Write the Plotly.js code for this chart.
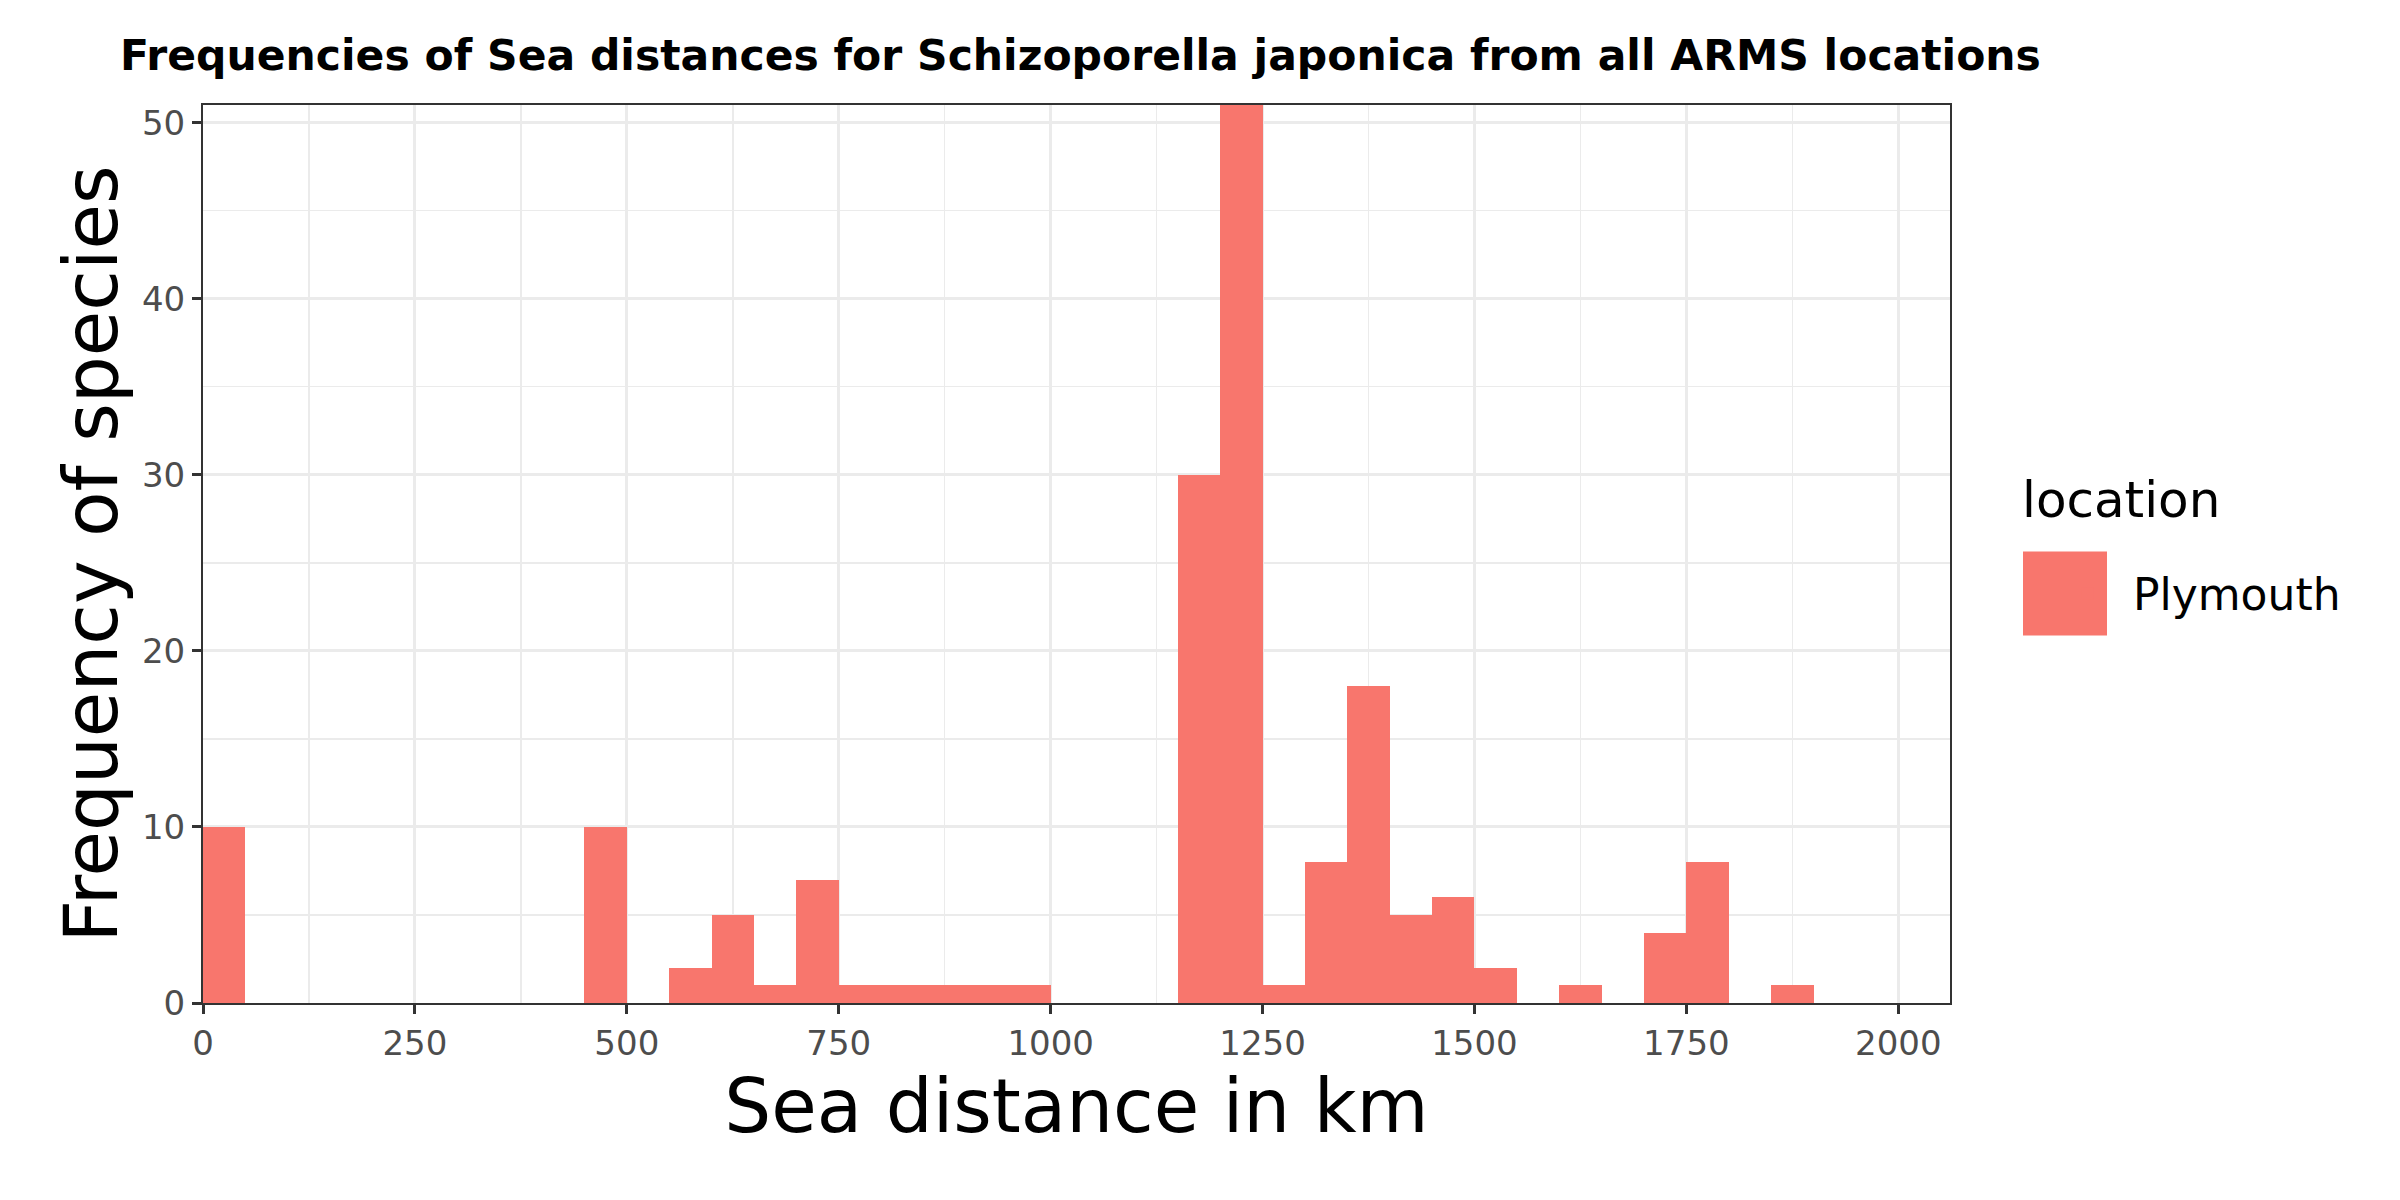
<!DOCTYPE html>
<html>
<head>
<meta charset="utf-8">
<script src="https://cdn.plot.ly/plotly-3.0.1.min.js"></script>
<style>html,body{margin:0;padding:0;background:#fff}</style>
</head>
<body>
<div id="chart" style="width:2400px;height:1200px"></div>
<script>
// Histogram bins (bin start, km) and counts
const binStart = [0, 450, 550, 600, 650, 700, 750, 800, 850, 900, 950, 1150, 1200, 1250, 1300, 1350, 1400, 1450, 1500, 1600, 1700, 1750, 1850];
const counts   = [10, 10, 2, 5, 1, 7, 1, 1, 1, 1, 1, 30, 51, 1, 8, 18, 5, 6, 2, 1, 4, 8, 1];
const binWidth = 50;
const seriesName = "Plymouth";
const legendTitle = "location";
const xTicks = [0, 250, 500, 750, 1000, 1250, 1500, 1750, 2000];
const yTicks = [0, 10, 20, 30, 40, 50];

const FONT = "DejaVu Sans";
const trace = {
  type: "bar",
  x: binStart,
  y: counts,
  width: binStart.map(() => binWidth),
  offset: 0,
  name: seriesName,
  marker: {color: "#F8766D", line: {width: 0}},
  showlegend: true
};

const layout = {
  width: 2400, height: 1200,
  paper_bgcolor: "#ffffff", plot_bgcolor: "#ffffff",
  margin: {l: 203, r: 450, t: 105, b: 197, pad: 0},
  bargap: 0,
  title: {
    text: "<b>Frequencies of Sea distances for Schizoporella japonica from all ARMS locations</b>",
    font: {family: FONT, size: 42.5, color: "#000"},
    x: 120/2400, xref: "container", xanchor: "left",
    y: 1 - 55/1200, yref: "container", yanchor: "middle"
  },
  xaxis: {
    range: [0, 2061],
    tickvals: xTicks,
    ticktext: xTicks.map(String),
    ticks: "outside", ticklen: 9, tickwidth: 3, tickcolor: "#333333",
    tickfont: {family: FONT, size: 34, color: "#4d4d4d"},
    showgrid: true, gridcolor: "#ebebeb", gridwidth: 3,
    minor: {tickvals: [125, 375, 625, 875, 1125, 1375, 1625, 1875], showgrid: true, gridcolor: "#ebebeb", gridwidth: 1.5, ticks: ""},
    showline: true, linecolor: "#333333", linewidth: 2, mirror: true,
    zeroline: false,
    title: {text: "Sea distance in km", font: {family: FONT, size: 74, color: "#000"}, standoff: 10}
  },
  yaxis: {
    range: [0, 51],
    tickvals: yTicks,
    ticktext: yTicks.map(String),
    ticks: "outside", ticklen: 9, tickwidth: 3, tickcolor: "#333333",
    tickfont: {family: FONT, size: 34, color: "#4d4d4d"},
    showgrid: true, gridcolor: "#ebebeb", gridwidth: 3,
    minor: {tickvals: [5, 15, 25, 35, 45], showgrid: true, gridcolor: "#ebebeb", gridwidth: 1.5, ticks: ""},
    showline: true, linecolor: "#333333", linewidth: 2, mirror: true,
    zeroline: false,
    title: {text: "Frequency of species", font: {family: FONT, size: 74, color: "#000"}, standoff: 0}
  },
  legend: {
    x: 1.0532, xanchor: "left", y: (1002-593)/897, yanchor: "middle",
    bgcolor: "rgba(0,0,0,0)", borderwidth: 0,
    font: {family: FONT, size: 44, color: "#000"},
    itemwidth: 80
  },
  annotations: [
    {text: legendTitle, xref: "paper", yref: "paper",
     x: (2020-203)/1747, xanchor: "left", y: (1002-500)/897, yanchor: "middle",
     showarrow: false, font: {family: FONT, size: 50, color: "#000"}}
  ],
  shapes: [
    {type: "rect", xref: "paper", yref: "paper",
     x0: (2023-203)/1747, x1: (2107-203)/1747,
     y0: (1002-635)/897, y1: (1002-551)/897,
     fillcolor: "#F8766D", line: {width: 0}, layer: "above"}
  ]
};

Plotly.newPlot("chart", [trace], layout, {displayModeBar: false, staticPlot: true});
</script>
</body>
</html>
